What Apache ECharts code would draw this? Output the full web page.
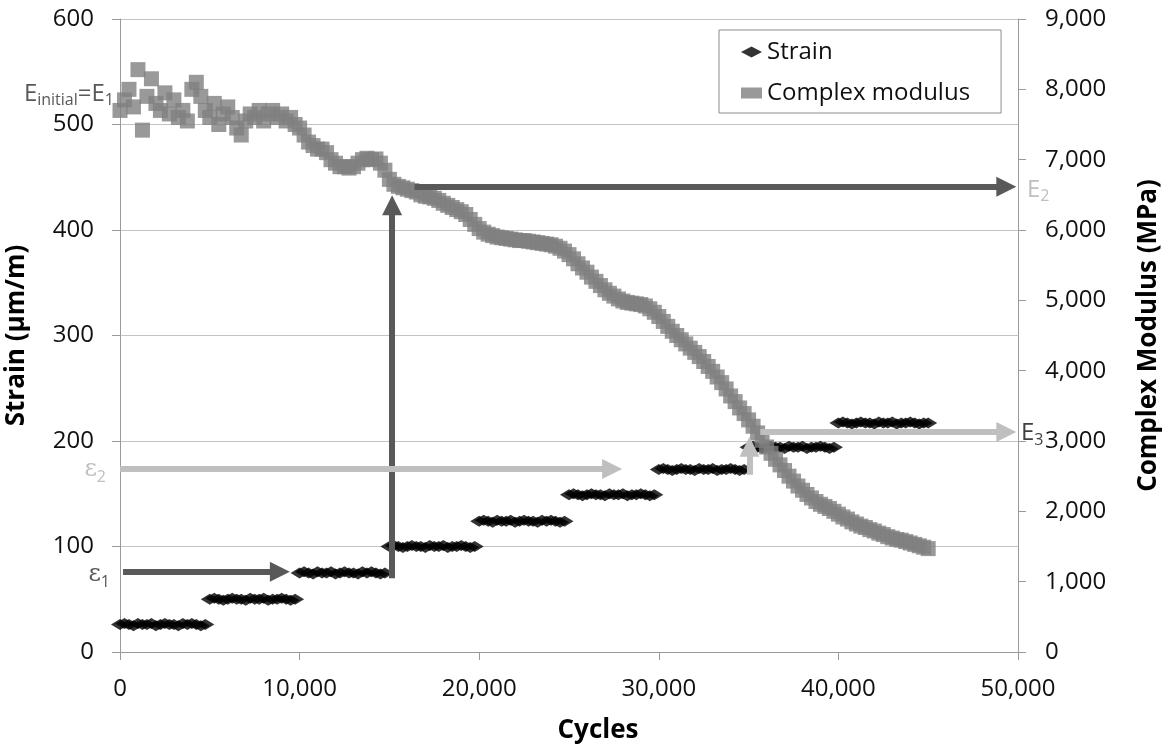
<!DOCTYPE html>
<html>
<head>
<meta charset="utf-8">
<script src="https://cdn.jsdelivr.net/npm/echarts@6/dist/echarts.min.js"></script>
<style>
  html, body { margin: 0; padding: 0; background: #fff; }
  #chart { width: 1165px; height: 747px; }
</style>
</head>
<body>
<div id="chart"></div>
<script>
// Load cycles at which strain and complex modulus were recorded
const cycles = [
  0, 250, 500, 750, 1000, 1250, 1500, 1750, 2000, 2250, 2500, 2750, 3000, 3250, 3500, 3750, 4000, 4250, 4500, 4750,
  5000, 5250, 5500, 5750, 6000, 6250, 6500, 6750, 7000, 7250, 7500, 7750, 8000, 8250, 8500, 8750, 9000, 9250, 9500, 9750,
  10000, 10250, 10500, 10750, 11000, 11250, 11500, 11750, 12000, 12250, 12500, 12750, 13000, 13250, 13500, 13750, 14000, 14250, 14500, 14750,
  15000, 15250, 15500, 15750, 16000, 16250, 16500, 16750, 17000, 17250, 17500, 17750, 18000, 18250, 18500, 18750, 19000, 19250, 19500, 19750,
  20000, 20250, 20500, 20750, 21000, 21250, 21500, 21750, 22000, 22250, 22500, 22750, 23000, 23250, 23500, 23750, 24000, 24250, 24500, 24750,
  25000, 25250, 25500, 25750, 26000, 26250, 26500, 26750, 27000, 27250, 27500, 27750, 28000, 28250, 28500, 28750, 29000, 29250, 29500, 29750,
  30000, 30250, 30500, 30750, 31000, 31250, 31500, 31750, 32000, 32250, 32500, 32750, 33000, 33250, 33500, 33750, 34000, 34250, 34500, 34750,
  35000, 35250, 35500, 35750, 36000, 36250, 36500, 36750, 37000, 37250, 37500, 37750, 38000, 38250, 38500, 38750, 39000, 39250, 39500, 39750,
  40000, 40250, 40500, 40750, 41000, 41250, 41500, 41750, 42000, 42250, 42500, 42750, 43000, 43250, 43500, 43750, 44000, 44250, 44500, 44750, 45000
];

// Strain (µm/m), stepped every 5,000 cycles
const strain = [
  26, 27, 26, 25, 27, 26, 26, 27, 25, 26, 27, 26, 26, 25, 27, 26, 27, 26, 25, 26,
  50, 51, 50, 49, 50, 51, 50, 50, 49, 51, 50, 50, 51, 49, 50, 50, 51, 50, 49, 50,
  75, 76, 75, 74, 76, 75, 75, 76, 74, 75, 76, 75, 75, 74, 76, 75, 76, 75, 74, 75,
  100, 101, 100, 99, 100, 101, 100, 100, 99, 101, 100, 100, 101, 99, 100, 100, 101, 100, 99, 100,
  124, 125, 124, 123, 125, 124, 124, 125, 123, 124, 125, 124, 124, 123, 125, 124, 125, 124, 123, 124,
  149, 150, 149, 148, 149, 150, 149, 149, 148, 150, 149, 149, 150, 148, 149, 149, 150, 149, 148, 149,
  173, 174, 173, 172, 173, 174, 173, 173, 172, 174, 173, 173, 174, 172, 173, 173, 174, 173, 172, 173,
  194, 195, 194, 193, 194, 195, 194, 194, 193, 195, 194, 194, 195, 193, 194, 194, 195, 194, 193, 194,
  217, 218, 217, 216, 217, 218, 217, 217, 216, 218, 217, 217, 218, 216, 217, 217, 218, 217, 216, 217, 217
];

// Complex modulus (MPa)
const modulus = [
  7700, 7850, 8000, 7750, 8280, 7420, 7900, 8150, 7800, 7700, 7950, 7650, 7850, 7600, 7700, 7550, 8000, 8100, 7900, 7700,
  7600, 7800, 7500, 7650, 7750, 7600, 7450, 7350, 7550, 7650, 7600, 7700, 7550, 7650, 7700, 7600, 7650, 7550, 7600, 7500,
  7450, 7350, 7250, 7200, 7150, 7150, 7100, 7000, 6950, 6900, 6900, 6880, 6900, 6950, 7000, 7020, 7000, 7010, 6950, 6850,
  6720, 6650, 6620, 6600, 6580, 6560, 6540, 6500, 6480, 6470, 6450, 6420, 6380, 6350, 6320, 6290, 6260, 6220, 6150, 6080,
  6020, 5970, 5940, 5920, 5900, 5890, 5880, 5870, 5860, 5850, 5850, 5840, 5830, 5820, 5810, 5800, 5790, 5770, 5740, 5700,
  5650, 5590, 5520, 5460, 5400, 5330, 5270, 5210, 5150, 5100, 5060, 5020, 4990, 4970, 4960, 4950, 4940, 4920, 4880, 4830,
  4770, 4700, 4630, 4560, 4500, 4440, 4380, 4320, 4260, 4200, 4130, 4060, 3990, 3910, 3830, 3740, 3640, 3560, 3470, 3390,
  3300, 3210, 3115, 3010, 2915, 2825, 2740, 2660, 2580, 2500, 2430, 2360, 2300, 2240, 2190, 2140, 2100, 2070, 2040, 2000,
  1960, 1920, 1890, 1850, 1820, 1790, 1770, 1740, 1720, 1690, 1670, 1640, 1620, 1600, 1590, 1570, 1550, 1530, 1510, 1490, 1470
];

// Annotation arrows, [cycles, strain] start and end points
const darkArrows = [
  [[170, 76], [8900, 76]],          // ε1
  [[15150, 70], [15150, 423.5]],    // step up to E2
  [[16400, 441], [49350, 441]]      // E2
];
const lightArrows = [
  [[0, 173.5], [27400, 173.5]],     // ε2
  [[35050, 168], [35050, 194.5]],   // step up to E3
  [[35650, 208.5], [49350, 208.5]]  // E3
];

const FONT = 'Open Sans';
const DARK = '#595959';
const LIGHT = '#bfbfbf';

const strainData = cycles.map((c, i) => [c, strain[i]]);
const modulusData = cycles.map((c, i) => [c, modulus[i]]);

function arrowLines(list) {
  return list.map(([a, b]) => [{ coord: a }, { coord: b }]);
}

const chart = echarts.init(document.getElementById('chart'));

const axisText = { fontFamily: FONT, fontSize: 24, color: '#111' };
const nameText = { fontFamily: FONT, fontSize: 26, fontWeight: 'bold', color: '#000' };
const thousands = v => v.toLocaleString('en-US');

chart.setOption({
  animation: false,
  backgroundColor: '#fff',
  grid: { left: 120, right: 147, top: 19, bottom: 95, outerBoundsMode: 'none' },
  legend: {
    left: 719, top: 30,
    orient: 'vertical',
    padding: [10, 31, 8, 22],
    itemGap: 17,
    itemWidth: 21, itemHeight: 11,
    backgroundColor: '#fff',
    borderColor: '#8c8c8c', borderWidth: 1,
    textStyle: { fontFamily: FONT, fontSize: 24, lineHeight: 24, color: '#111' },
    data: [
      { name: 'Strain', icon: 'diamond' },
      { name: 'Complex modulus', icon: 'rect' }
    ]
  },
  xAxis: {
    type: 'value', min: 0, max: 50000, interval: 10000,
    name: 'Cycles', nameLocation: 'middle', nameGap: 66,
    nameTextStyle: Object.assign({ padding: [0, 0, 0, 58] }, nameText),
    axisLine: { lineStyle: { color: '#9a9a9a', width: 1 } },
    axisTick: { show: true, inside: false, length: 8, lineStyle: { color: '#9a9a9a' } },
    axisLabel: Object.assign({ margin: 25, formatter: thousands }, axisText),
    splitLine: { show: false }
  },
  yAxis: [
    {
      type: 'value', min: 0, max: 600, interval: 100, position: 'left',
      name: 'Strain (µm/m)', nameLocation: 'middle', nameGap: 90, nameRotate: 90, nameTextStyle: nameText,
      axisLine: { show: true, lineStyle: { color: '#9a9a9a', width: 1 } },
      axisTick: { show: true, inside: false, length: 8, lineStyle: { color: '#9a9a9a' } },
      axisLabel: Object.assign({ margin: 26 }, axisText),
      splitLine: { show: true, lineStyle: { color: '#c4c4c4', width: 1 } }
    },
    {
      type: 'value', min: 0, max: 9000, interval: 1000, position: 'right',
      name: 'Complex Modulus (MPa)', nameLocation: 'middle', nameGap: 118, nameRotate: 90, nameTextStyle: nameText,
      axisLine: { show: true, lineStyle: { color: '#9a9a9a', width: 1 } },
      axisTick: { show: true, inside: false, length: 8, lineStyle: { color: '#9a9a9a' } },
      axisLabel: Object.assign({ margin: 27, formatter: thousands }, axisText),
      splitLine: { show: false }
    }
  ],
  series: [
    {
      name: 'Strain', type: 'scatter', yAxisIndex: 0,
      symbol: 'diamond', symbolSize: [18, 11],
      itemStyle: { color: '#000' },
      data: strainData, z: 2
    },
    {
      name: 'Complex modulus', type: 'scatter', yAxisIndex: 1,
      symbol: 'rect', symbolSize: 15,
      itemStyle: { color: '#808080' },
      data: modulusData, z: 3
    },
    {
      name: 'darkArrows', type: 'scatter', yAxisIndex: 0, data: [], silent: true,
      markLine: {
        silent: true, animation: false,
        symbol: ['none', 'triangle'], symbolSize: [20, 20],
        lineStyle: { color: DARK, width: 6, type: 'solid' },
        itemStyle: { color: DARK },
        label: { show: false },
        emphasis: { disabled: true },
        data: arrowLines(darkArrows)
      }
    },
    {
      name: 'lightArrows', type: 'scatter', yAxisIndex: 0, data: [], silent: true,
      markLine: {
        silent: true, animation: false,
        symbol: ['none', 'triangle'], symbolSize: [20, 20],
        lineStyle: { color: LIGHT, width: 6, type: 'solid' },
        itemStyle: { color: LIGHT },
        label: { show: false },
        emphasis: { disabled: true },
        data: arrowLines(lightArrows)
      }
    }
  ]
});

// Text annotations placed from the strain/cycles scales
function px(c, s) { return chart.convertToPixel({ xAxisIndex: 0, yAxisIndex: 0 }, [c, s]); }

function richLabel(color, mainFont) {
  return {
    m: { fontFamily: mainFont || FONT, fontSize: 24, lineHeight: 30, verticalAlign: 'middle', fill: color },
    s: { fontFamily: FONT, fontSize: 16, lineHeight: 30, verticalAlign: 'bottom', fill: color }
  };
}

function label(text, c, s, align, dx, color, mainFont) {
  const p = px(c, s);
  return {
    type: 'text', x: p[0] + dx, y: p[1], z: 20, silent: true,
    style: {
      text: text, rich: richLabel(color, mainFont),
      align: align, verticalAlign: 'middle'
    }
  };
}

chart.setOption({
  graphic: [
    label('{m|E}{s|initial}{m|=E}{s|1}', 0, 529, 'right', -6, DARK),
    label('{m|ε}{s|2}', 0, 172.5, 'right', -14, LIGHT, 'DejaVu Serif'),
    label('{m|ε}{s|1}', 0, 73, 'right', -10, DARK, 'DejaVu Serif'),
    label('{m|E}{s|2}', 50000, 438, 'left', 9, LIGHT),
    label('{m|E}{s|3}', 50000, 207, 'left', 3, '#404040')
  ]
});
</script>
</body>
</html>
